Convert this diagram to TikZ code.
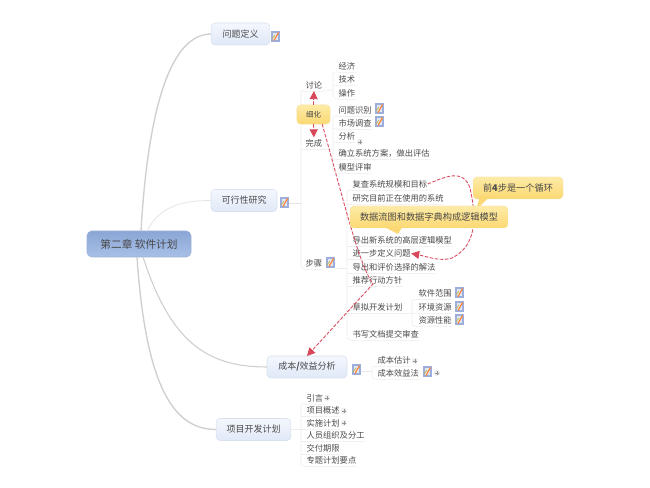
\documentclass[tikz,border=0pt]{standalone}
\usepackage{fontspec}
\setmainfont{Noto Sans CJK SC}
\usetikzlibrary{arrows.meta,shadings}
\definecolor{txt}{HTML}{4A4A4A}
\definecolor{redd}{HTML}{D9485A}
\definecolor{boxtop}{HTML}{F4F7FD}
\definecolor{boxbot}{HTML}{E0E9F8}
\definecolor{boxline}{HTML}{D8E0EE}
\definecolor{roottop}{HTML}{8BA6D6}
\definecolor{rootbot}{HTML}{A8C0E6}
\definecolor{rootline}{HTML}{9DB2D6}
\definecolor{yeltop}{HTML}{FDEBA6}
\definecolor{yelbot}{HTML}{FBD873}
\definecolor{yelline}{HTML}{F8E2A0}
\definecolor{iconblue}{HTML}{9DAEDC}
\tikzset{
  x=0.75pt,y=-0.75pt,
  every node/.style={text=txt,inner sep=0pt,outer sep=0pt},
  leaf/.style={font=\fontsize{6.2pt}{7pt}\selectfont,anchor=west,inner xsep=0.5pt,inner ysep=1.5pt,text height=5.6pt,text depth=0.6pt,
    append after command={(\tikzlastnode.south west) edge[draw=gray!10,line width=0.4pt] (\tikzlastnode.south east)}},
  topicbox/.style={draw=boxline,line width=0.4pt,rounded corners=3pt,top color=boxtop,bottom color=boxbot,
    font=\fontsize{6.75pt}{8pt}\selectfont,minimum height=16.5pt,align=center,text=txt},
  rootbox/.style={draw=rootline,line width=0.4pt,rounded corners=3.5pt,top color=roottop,bottom color=rootbot,
    font=\fontsize{8pt}{9pt}\selectfont,minimum height=19.5pt,minimum width=78pt,text=black!72},
  yellowbox/.style={draw=yelline,line width=0.3pt,rounded corners=3pt,top color=yeltop,bottom color=yelbot,text=txt},
  pointer/.style={fill=yelbot,draw=none},
  mainline/.style={draw=gray!38,line width=1pt},
  subline/.style={draw=gray!20,line width=0.45pt},
  treeline/.style={draw=gray!14,line width=0.45pt,rounded corners=2pt},
  redline/.style={draw=redd,line width=0.65pt,dash pattern=on 2.6pt off 1.2pt},
  redtip/.style={-{Triangle[length=6pt,width=6pt]}},
  note/.pic={
    \fill[iconblue] (-4.5,-5.5) rectangle (4.5,5.5);
    \fill[white!70!iconblue] (-2.5,-3.5) rectangle (2.5,3.5);
    \draw[orange!80!red!80,line width=0.9pt] (-1,3.5) -- (3.5,-4.5);
    \draw[olive!60,line width=0.5pt] (-3,2) -- (0,-2);
  },
  plusmark/.pic={
    \fill[gray!14] (0,0) circle (3.2);
    \draw[gray!85,line width=0.35pt] (-1.6,0) -- (1.6,0) (0,-1.6) -- (0,1.6);
  }
}
\begin{document}
\begin{tikzpicture}
\useasboundingbox (0,0) rectangle (650,488);
\fill[white] (0,0) rectangle (650,488);

% topics
\node[rootbox] (root) at (139,244) {第二章 软件计划};
\node[topicbox,minimum width=44pt] (t1) at (240.5,34) {问题定义};
\node[topicbox,minimum width=49.5pt] (t2) at (244,200.5) {可行性研究};
\node[topicbox,minimum width=60pt] (t3) at (307,367) {成本\textbf{/}效益分析};
\node[topicbox,minimum width=56pt] (t4) at (253.5,429.5) {项目开发计划};

\coordinate (r1) at (141,231);
\coordinate (r2) at (147,231);
\coordinate (r3) at (143,257);
\coordinate (r4) at (137,257);
\draw[mainline] (r1) .. controls (148,110) and (170,34) .. (t1.west);
\draw[subline,line width=0.6pt] (r2) .. controls (160,205) and (185,200.5) .. (t2.west);
\draw[mainline,line width=0.8pt] (r3) .. controls (170,340) and (205,367) .. (t3.west);
\draw[mainline] (r4) .. controls (146,390) and (175,429.5) .. (t4.west);

% icons of topics
\pic at (275,37) {note};
\pic at (284,203) {note};
\pic at (356,370) {note};

% feasibility: first level
\node[leaf] (taolun) at (305,85) {讨论};
\node[leaf] (wancheng) at (305,143.5) {完成};
\node[leaf] (buzhou) at (305,263) {步骤};
\pic at (330,263) {note};
\coordinate (j1) at (301,203);
\draw[treeline] (taolun.south west) -- (301,90) -- (301,268) -- (buzhou.south west);
\draw[subline] (289,203) -- (j1);
\draw[treeline] (301,149) -- (wancheng.south west);

% discussion
\node[leaf] (a1) at (338,66) {经济};
\node[leaf] (a2) at (338,79.5) {技术};
\node[leaf] (a3) at (338,93) {操作};
\draw[treeline] (a1.south west) -- (333,71.5) -- (333,98) -- (a3.south west);
\draw[treeline] (333,85) -- (a2.south west);
\draw[treeline] (taolun.south east) -- (333,90);

% done
\node[leaf] (b1) at (338,110) {问题识别};
\node[leaf] (b2) at (338,123) {市场调查};
\node[leaf] (b3) at (338,136.5) {分析};
\node[leaf] (b4) at (338,153.5) {确立系统方案，做出评估};
\node[leaf] (b5) at (338,167) {模型评审};
\pic at (379,109) {note};
\pic at (379,122) {note};
\pic at (360,142) {plusmark};
\draw[treeline] (b1.south west) -- (333,115.5) -- (333,172.5) -- (b5.south west);
\draw[treeline] (333,128.5) -- (b2.south west);
\draw[treeline] (333,142) -- (b3.south west);
\draw[treeline] (333,159) -- (b4.south west);
\draw[treeline] (wancheng.south east) -- (333,149);

% steps
\node[leaf] (c1) at (352,184) {复查系统规模和目标};
\node[leaf] (c2) at (352,198) {研究目前正在使用的系统};
\node[leaf] (c3) at (352,240) {导出新系统的高层逻辑模型};
\node[leaf] (c4) at (352,253.5) {进一步定义问题};
\node[leaf] (c5) at (352,267) {导出和评价选择的解法};
\node[leaf] (c6) at (352,280.5) {推荐行动方针};
\node[leaf] (c7) at (352,307.5) {草拟开发计划};
\node[leaf] (c8) at (352,334) {书写文档提交审查};
\draw[treeline] (c1.south west) -- (347,189.5) -- (347,339.5) -- (c8.south west);
\foreach \n in {c2,c3,c4,c5,c6,c7}{\draw[treeline] (347,0|-\n.south west) -- (\n.south west);}
\draw[treeline] (337,268) -- (347,268);

% development plan
\node[leaf] (d1) at (418,293.5) {软件范围};
\node[leaf] (d2) at (418,307) {环境资源};
\node[leaf] (d3) at (418,320.5) {资源性能};
\pic at (459,293) {note};
\pic at (459,307) {note};
\pic at (459,320) {note};
\draw[treeline] (d1.south west) -- (412,299) -- (412,326) -- (d3.south west);
\draw[treeline] (c7.south east) -- (d2.south west);

% cost
\node[leaf] (e1) at (377,360.5) {成本估计};
\node[leaf] (e2) at (377,373) {成本效益法};
\pic at (415,361) {plusmark};
\pic at (427,372) {note};
\pic at (437,373) {plusmark};
\draw[treeline] (e1.south west) -- (372,366) -- (372,378.5) -- (e2.south west);
\draw[treeline] (361,371) -- (372,371);

% project plan
\node[leaf] (f1) at (306,398) {引言};
\node[leaf] (f2) at (306,410.5) {项目概述};
\node[leaf] (f3) at (306,423) {实施计划};
\node[leaf] (f4) at (306,435.5) {人员组织及分工};
\node[leaf] (f5) at (306,448) {交付期限};
\node[leaf] (f6) at (306,460.5) {专题计划要点};
\pic at (327,398) {plusmark};
\pic at (344,411) {plusmark};
\pic at (344,423) {plusmark};
\draw[treeline] (f1.south west) -- (301,403) -- (301,466) -- (f6.south west);
\foreach \n in {f2,f3,f4,f5}{\draw[treeline] (301,0|-\n.south west) -- (\n.south west);}
\draw[treeline] (t4.east) -- (301,429.5);

% refinement callout
\node[yellowbox,font=\fontsize{5.6pt}{7pt}\selectfont,minimum width=25pt,minimum height=14.5pt] (xh) at (313.5,114.5) {细化};

% dashed relations
\coordinate (bend) at (373,284);
\draw[redline,redtip] (xh.north) -- (taolun.south);
\draw[redline,redtip] (xh.south) -- (wancheng.north);
\draw[redline,redtip] (xh.south east) ++(-8,0) .. controls (345,205) and (358,262) .. (bend) -- (t3.north);
\draw[redline,redtip] (c1.east) .. controls (445,177) and (463,168) .. (470,188)
   .. controls (476,215) and (478,245) .. (452,258) .. controls (440,262) and (425,256) .. (c4.east);

% callouts
\node[yellowbox,font=\fontsize{6.9pt}{8pt}\selectfont,minimum width=67.5pt,minimum height=16.5pt] (cb1) at (518,188) {前\textbf{4}步是一个循环};
\fill[pointer] (480,196) -- (490,196) -- (476,210) -- cycle;
\node[yellowbox,font=\fontsize{6.9pt}{8pt}\selectfont,minimum width=118.5pt,minimum height=16.5pt] (cb2) at (429,217) {数据流图和数据字典构成逻辑模型};
\fill[pointer] (385,227.3) -- (402,227.3) -- (398,234) -- cycle;
\end{tikzpicture}
\end{document}
